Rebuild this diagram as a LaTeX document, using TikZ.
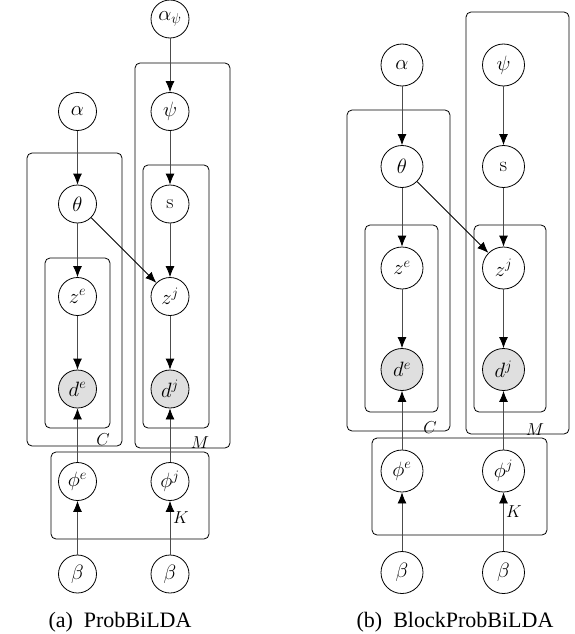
\documentclass[tikz,border=0pt]{standalone}
\usepackage{amsmath,amssymb}
\usepackage{fontspec}
\newfontfamily\capfont{Liberation Serif}
\usetikzlibrary{arrows.meta}

\begin{document}
\begin{tikzpicture}[x=1pt, y=-1pt, thick, node distance=92.5pt,
	main node/.style={circle, draw, inner sep=0pt, minimum size=38pt, font=\fontsize{20}{24}\selectfont},
	obs node/.style={main node, fill=gray!25},
	plate/.style={draw, rounded corners=5pt},
	plate label/.style={inner sep=0pt, font=\fontsize{17}{20}\selectfont},
	link/.style={draw=black!70, -{Latex[length=11pt, width=9pt, color=black]}},
	caption/.style={font=\capfont\fontsize{22}{26}\selectfont}]
	\useasboundingbox (0,0) rectangle (574,634);

	% (a) ProbBiLDA
	\node[main node] (alphapsiA) at (170,19) {$\alpha_\psi$};
	\node[main node] (psiA) [below of=alphapsiA] {$\psi$};
	\node[main node] (sA) [below of=psiA] {s};
	\node[main node] (zjA) [below of=sA] {$z^j$};
	\node[obs node] (djA) [below of=zjA] {$d^j$};
	\node[main node] (phijA) [below of=djA] {$\phi^j$};
	\node[main node] (betajA) [below of=phijA] {$\beta$};
	\node[main node] (alphaA) [left of=psiA] {$\alpha$};
	\node[main node] (thetaA) [below of=alphaA] {$\theta$};
	\node[main node] (zeA) [below of=thetaA] {$z^e$};
	\node[obs node] (deA) [below of=zeA] {$d^e$};
	\node[main node] (phieA) [below of=deA] {$\phi^e$};
	\node[main node] (betaeA) [below of=phieA] {$\beta$};

	\draw[plate] (27,153) rectangle (122,446);
	\draw[plate] (45,258) rectangle (110,428);
	\draw[plate] (135,63) rectangle (230,448);
	\draw[plate] (143,165) rectangle (209,428);
	\draw[plate] (51,452) rectangle (209,539);
	\node[plate label] (CA) at (103,440) {$C$};
	\node[plate label] (MA) at (200,443) {$M$};
	\node[plate label] (KA) at (181,518) {$K$};

	\path[link]
		(alphapsiA) edge (psiA)
		(psiA) edge (sA)
		(sA) edge (zjA)
		(zjA) edge (djA)
		(phijA) edge (djA)
		(betajA) edge (phijA)
		(alphaA) edge (thetaA)
		(thetaA) edge (zeA)
			edge[draw=black] (zjA)
		(zeA) edge (deA)
		(phieA) edge (deA)
		(betaeA) edge (phieA);

	\node[caption] (capA) at (120,622) {(a)\ \ ProbBiLDA};

	% (b) BlockProbBiLDA
	\begin{scope}[node distance=101.5pt, main node/.append style={minimum size=42pt, font=\fontsize{21}{25}\selectfont}]
	\node[main node] (alphaB) at (402,65) {$\alpha$};
	\node[main node] (thetaB) [below of=alphaB] {$\theta$};
	\node[main node] (zeB) [below of=thetaB] {$z^e$};
	\node[obs node] (deB) [below of=zeB] {$d^e$};
	\node[main node] (phieB) [below of=deB] {$\phi^e$};
	\node[main node] (betaeB) [below of=phieB] {$\beta$};
	\node[main node] (psiB) [right of=alphaB] {$\psi$};
	\node[main node] (sB) [below of=psiB] {s};
	\node[main node] (zjB) [below of=sB] {$z^j$};
	\node[obs node] (djB) [below of=zjB] {$d^j$};
	\node[main node] (phijB) [below of=djB] {$\phi^j$};
	\node[main node] (betajB) [below of=phijB] {$\beta$};
	\end{scope}

	\draw[plate] (347,110) rectangle (450,431);
	\draw[plate] (365,225) rectangle (438,412);
	\draw[plate] (466,12) rectangle (569,434);
	\draw[plate] (474,225) rectangle (546,412);
	\draw[plate] (372,438) rectangle (547,535);
	\node[plate label, font=\fontsize{18}{21}\selectfont] (CB) at (430,428) {$C$};
	\node[plate label, font=\fontsize{18}{21}\selectfont] (MB) at (535,430) {$M$};
	\node[plate label, font=\fontsize{18}{21}\selectfont] (KB) at (514,512) {$K$};

	\path[link]
		(alphaB) edge (thetaB)
		(thetaB) edge (zeB)
			edge[draw=black] (zjB)
		(zeB) edge (deB)
		(phieB) edge (deB)
		(betaeB) edge (phieB)
		(psiB) edge (sB)
		(sB) edge (zjB)
		(zjB) edge (djB)
		(phijB) edge (djB)
		(betajB) edge (phijB);

	\node[caption] (capB) at (455,622) {(b)\ \ BlockProbBiLDA};
\end{tikzpicture}
\end{document}
